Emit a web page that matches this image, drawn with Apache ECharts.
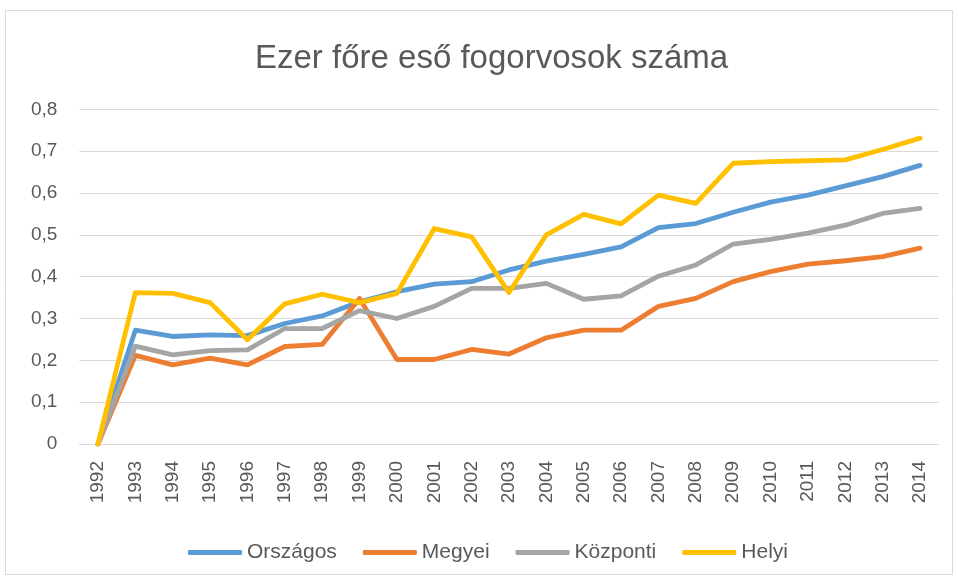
<!DOCTYPE html>
<html><head><meta charset="utf-8">
<script src="https://cdn.jsdelivr.net/npm/echarts@6/dist/echarts.min.js"></script>
<style>html,body{margin:0;padding:0;background:#fff}#c{width:958px;height:579px}</style>
</head><body><div id="c"></div>
<script>
const years = ['1992','1993','1994','1995','1996','1997','1998','1999','2000','2001','2002','2003','2004','2005','2006','2007','2008','2009','2010','2011','2012','2013','2014'];
const orszagos = [0,0.272,0.257,0.261,0.259,0.288,0.306,0.340,0.364,0.382,0.388,0.416,0.437,0.453,0.471,0.517,0.527,0.554,0.578,0.595,0.617,0.639,0.666];
const megyei   = [0,0.212,0.189,0.205,0.189,0.233,0.238,0.348,0.202,0.202,0.226,0.215,0.254,0.272,0.272,0.329,0.348,0.388,0.412,0.430,0.438,0.448,0.468];
const kozponti = [0,0.234,0.213,0.223,0.225,0.276,0.276,0.319,0.300,0.329,0.372,0.372,0.384,0.346,0.354,0.401,0.428,0.478,0.489,0.504,0.523,0.551,0.563];
const helyi    = [0,0.362,0.360,0.338,0.249,0.335,0.358,0.338,0.360,0.515,0.495,0.362,0.500,0.549,0.526,0.595,0.575,0.671,0.675,0.677,0.679,0.704,0.731];
const seriesNames = ['Országos','Megyei','Központi','Helyi'];
const colors = ['#5b9bd5','#ed7d31','#a5a5a5','#ffc000'];
const dataSets = [orszagos, megyei, kozponti, helyi];

const FONT = 'Liberation Sans';
const chart = echarts.init(document.getElementById('c'), null, {renderer:'canvas'});
chart.setOption({
  animation:false,
  backgroundColor:'#fff',
  graphic:[{type:'rect', shape:{x:5.5,y:10.5,width:947,height:564}, style:{fill:'none', stroke:'#d9d9d9', lineWidth:1}, silent:true}],
  title:{text:'Ezer főre eső fogorvosok száma', left:250, top:37,
    textStyle:{fontFamily:FONT, fontWeight:'normal', fontSize:33, color:'#595959'}},
  grid:{left:79.3, right:19.3, top:109.3, bottom:135, containLabel:false},
  legend:{top:537, left:183, itemWidth:54, itemHeight:5, itemGap:26,
    icon:'roundRect',
    textStyle:{fontFamily:FONT, fontSize:21, color:'#595959'},
    data:seriesNames},
  xAxis:{type:'category', data:years, boundaryGap:true,
    axisLine:{lineStyle:{color:'#d9d9d9', width:1}}, axisTick:{show:false},
    axisLabel:{rotate:90, margin:17, fontFamily:FONT, fontSize:19, color:'#595959', interval:0}},
  yAxis:{type:'value', min:0, max:0.8, interval:0.1,
    axisLine:{show:false}, axisTick:{show:false},
    splitLine:{lineStyle:{color:'#d9d9d9', width:1}},
    axisLabel:{margin:22, fontFamily:FONT, fontSize:19, color:'#595959',
      formatter:v=> v===0 ? '0' : v.toFixed(1).replace('.',',')}},
  series: dataSets.map((d,i)=>({name:seriesNames[i], type:'line', data:d, symbol:'none',
    lineStyle:{color:colors[i], width:4.8, join:'round', cap:'round'}, itemStyle:{color:colors[i]}}))
});
</script></body></html>
